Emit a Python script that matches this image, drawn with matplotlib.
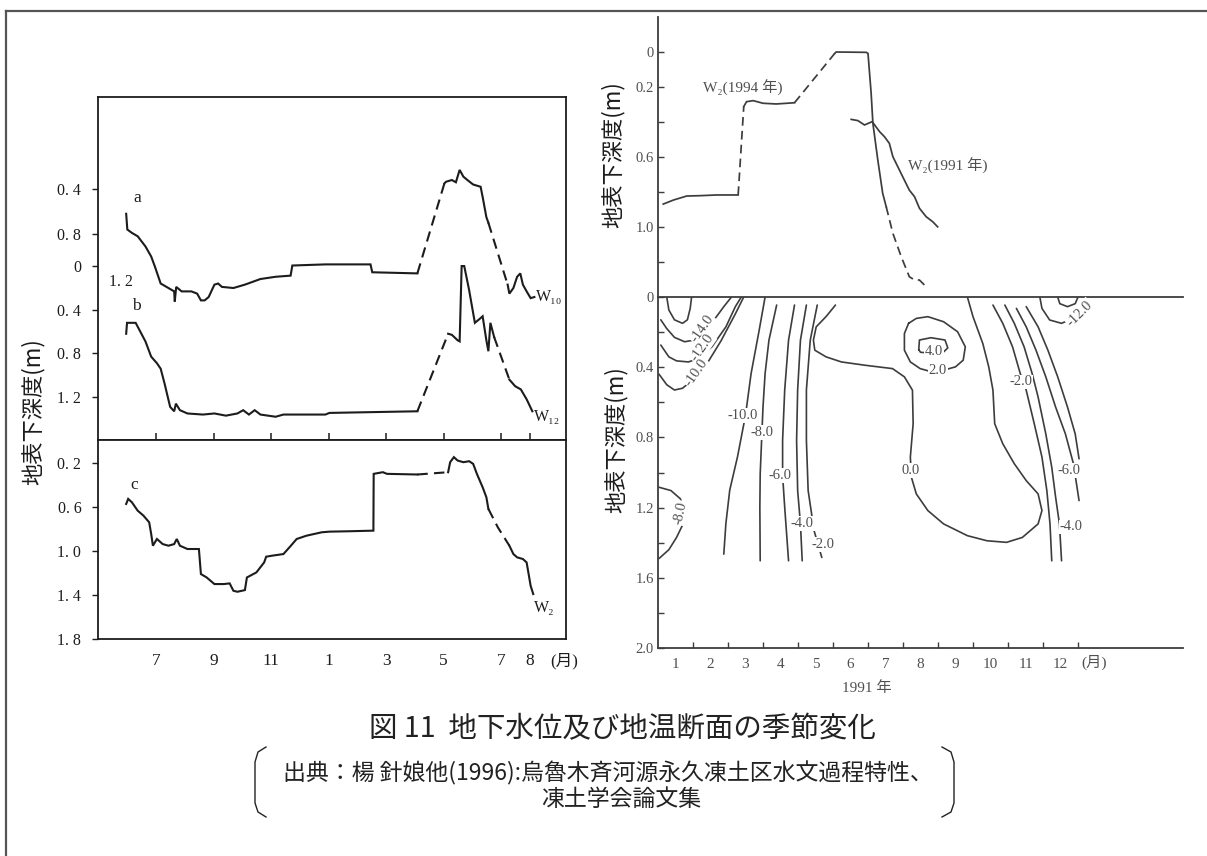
import matplotlib
matplotlib.use("Agg")
import matplotlib.pyplot as plt
from matplotlib.lines import Line2D
import numpy as np

# ---------------- data (months, depth in m) ----------------
# left panel: month index (7 = July of year 1, 13 = January of year 2 ...)
W10_t = [5.96, 6.00, 6.16, 6.36, 6.63, 6.83, 6.96, 7.16, 7.43, 7.63, 7.65, 7.70, 7.89, 8.23, 8.43, 8.56,
         8.69, 8.83, 9.03, 9.16, 9.29, 9.69, 10.09, 10.63, 11.16, 11.68, 11.74, 12.89, 14.46, 14.52, 16.09,
         17.03, 17.09, 17.29, 17.43, 17.56, 17.69, 17.83, 18.03, 18.29, 18.36, 18.49, 18.56, 19.23, 19.29,
         19.43, 19.56, 19.67, 19.76, 19.89, 20.03, 20.16]
W10_d = [0.62, 0.76, 0.79, 0.82, 0.91, 1.00, 1.09, 1.24, 1.28, 1.31, 1.40, 1.27, 1.31, 1.31, 1.33, 1.39,
         1.39, 1.36, 1.25, 1.24, 1.27, 1.28, 1.25, 1.20, 1.18, 1.17, 1.08, 1.07, 1.07, 1.14, 1.15,
         0.35, 0.335, 0.32, 0.34, 0.23, 0.29, 0.32, 0.36, 0.38, 0.47, 0.65, 0.70, 1.25, 1.33,
         1.28, 1.18, 1.15, 1.25, 1.31, 1.37, 1.36]
W10_dashed = [(16.09, 17.03), (18.56, 19.23)]

W12_t = [5.96, 5.99, 6.29, 6.43, 6.63, 6.83, 7.03, 7.16, 7.29, 7.49, 7.63, 7.69, 7.83, 8.09, 8.63, 9.03,
         9.43, 9.83, 10.03, 10.23, 10.43, 10.63, 11.16, 11.43, 12.89, 13.03, 16.09, 17.16, 17.29, 17.49,
         17.56, 17.63, 17.72, 17.89, 18.09, 18.23, 18.36, 18.49, 18.56, 18.63, 18.76, 19.29, 19.49, 19.69,
         19.89, 20.09]
W12_d = [0.62, 0.52, 0.52, 0.59, 0.69, 0.83, 0.89, 0.94, 1.07, 1.29, 1.33, 1.26, 1.32, 1.35, 1.36, 1.35,
         1.37, 1.35, 1.32, 1.36, 1.32, 1.36, 1.38, 1.36, 1.36, 1.345, 1.33, 0.62, 0.63, 0.68,
         0.69, 0.0, 0.0, 0.22, 0.52, 0.49, 0.46, 0.68, 0.78, 0.52, 0.65, 1.04, 1.10, 1.13,
         1.22, 1.33]
W12_dashed = [(16.09, 17.16), (18.76, 19.29)]

W2_t = [5.96, 6.03, 6.16, 6.36, 6.56, 6.76, 6.83, 6.89, 7.03, 7.23, 7.43, 7.63, 7.72, 7.83, 8.09, 8.49,
        8.56, 8.76, 9.03, 9.36, 9.56, 9.69, 9.83, 10.09, 10.16, 10.49, 10.76, 10.83, 11.03, 11.43, 11.69,
        11.89, 12.23, 12.76, 13.03, 13.63, 14.56, 14.57, 14.89, 15.03, 16.09, 17.16, 17.23, 17.36, 17.49,
        17.69, 17.89, 18.03, 18.16, 18.36, 18.49, 18.56, 18.89, 19.29, 19.43, 19.56, 19.76, 19.89, 19.96,
        20.03, 20.12]
W2_d = [0.571, 0.525, 0.556, 0.632, 0.677, 0.738, 0.844, 0.951, 0.890, 0.936, 0.951, 0.936, 0.890, 0.951,
        0.981, 0.981, 1.209, 1.240, 1.300, 1.300, 1.294, 1.361, 1.370, 1.355, 1.240, 1.194, 1.103, 1.051,
        1.042, 1.027, 0.951, 0.890, 0.860, 0.829, 0.823, 0.820, 0.814, 0.297, 0.282, 0.297, 0.303, 0.282,
        0.191, 0.145, 0.176, 0.191, 0.182, 0.206, 0.297, 0.419, 0.510, 0.616, 0.784, 0.951, 1.027, 1.057,
        1.072, 1.103, 1.209, 1.316, 1.391]
W2_dashed = [(16.09, 17.16), (18.56, 19.29)]

left_month_ticks = [7, 9, 11, 13, 15, 17, 19, 20]
left_month_labels = ["7", "9", "11", "1", "3", "5", "7", "8"]

# right upper panel (months of the year, 0 = 1 Jan)
W2_1994_t = [0.15, 0.44, 0.82, 1.20, 1.67, 2.29, 2.45, 2.53, 2.72, 3.00, 3.38, 3.90, 5.05, 5.09, 5.95,
             6.00, 6.09, 6.14, 6.28, 6.42, 6.52, 6.71, 6.95, 7.18, 7.33, 7.47, 7.61]
W2_1994_d = [0.869, 0.846, 0.823, 0.821, 0.817, 0.817, 0.312, 0.284, 0.278, 0.293, 0.297, 0.290, 0.008,
             0.0, 0.002, 0.008, 0.236, 0.408, 0.617, 0.808, 0.884, 1.036, 1.17, 1.284, 1.303, 1.303, 1.331]
W2_1994_dashed = [(2.29, 2.45), (3.90, 5.05), (6.52, 7.62)]

W2_1991_t = [5.52, 5.71, 5.90, 6.12, 6.33, 6.47, 6.61, 6.71, 6.85, 6.99, 7.18, 7.33, 7.47, 7.66, 7.85, 7.99]
W2_1991_d = [0.385, 0.392, 0.417, 0.398, 0.455, 0.484, 0.522, 0.598, 0.655, 0.712, 0.789, 0.827, 0.893,
             0.941, 0.970, 0.999]

# right lower panel: isotherm lines (deg C)
iso_core_t = [0.25, 0.31, 0.47, 0.70, 0.84, 0.92, 0.96]
iso_core_d = [0.0, 0.074, 0.13, 0.15, 0.13, 0.065, 0.0]
iso_m14_t = [0.08, 0.25, 0.47, 0.76, 1.04, 1.32, 1.60, 1.88, 2.10]
iso_m14_d = [0.13, 0.18, 0.23, 0.255, 0.245, 0.198, 0.131, 0.055, 0.0]
iso_m12_t = [0.08, 0.31, 0.53, 0.87, 1.15, 1.54, 1.94, 2.21, 2.38]
iso_m12_d = [0.274, 0.341, 0.364, 0.37, 0.35, 0.284, 0.17, 0.055, 0.0]
iso_m10a_t = [0.03, 0.25, 0.47, 0.70, 1.00, 1.40, 1.80, 2.20, 2.45]
iso_m10a_d = [0.44, 0.50, 0.53, 0.52, 0.47, 0.38, 0.25, 0.10, 0.0]
iso_m8a_t = [0.03, 0.37, 0.64, 0.76, 0.70, 0.53, 0.31, 0.03]
iso_m8a_d = [1.084, 1.103, 1.15, 1.22, 1.30, 1.37, 1.44, 1.49]
iso_m10_t = [3.06, 2.89, 2.66, 2.50, 2.27, 2.05, 1.94, 1.88]
iso_m10_d = [0.0, 0.19, 0.436, 0.674, 0.912, 1.10, 1.29, 1.465]
iso_m8_t = [3.39, 3.17, 3.06, 3.00, 2.97, 2.92, 2.91, 2.92]
iso_m8_d = [0.046, 0.246, 0.436, 0.627, 0.77, 1.008, 1.198, 1.503]
iso_m6_t = [3.90, 3.73, 3.62, 3.56, 3.56, 3.62, 3.73]
iso_m6_d = [0.046, 0.246, 0.53, 0.817, 1.017, 1.198, 1.503]
iso_m4_t = [4.24, 4.07, 3.99, 3.96, 3.99, 4.07, 4.12]
iso_m4_d = [0.046, 0.246, 0.53, 0.817, 1.103, 1.293, 1.503]
iso_m2_t = [4.55, 4.35, 4.24, 4.24, 4.29, 4.46, 4.68]
iso_m2_d = [0.046, 0.246, 0.53, 0.817, 1.103, 1.332, 1.484]
iso_0_t = [5.07, 4.80, 4.52, 4.44, 4.48, 4.80, 5.24, 5.92, 6.70, 7.04, 7.27, 7.29, 7.21, 7.24, 7.38, 7.71,
           8.16, 8.84, 9.40, 9.96, 10.41, 10.86, 10.97, 10.86, 10.52, 10.18, 9.85, 9.62, 9.57, 9.45, 9.28,
           9.00, 8.84]
iso_0_d = [0.046, 0.112, 0.17, 0.246, 0.303, 0.341, 0.37, 0.389, 0.408, 0.455, 0.531, 0.722, 0.912, 1.027,
           1.122, 1.217, 1.293, 1.36, 1.389, 1.398, 1.37, 1.293, 1.217, 1.122, 1.046, 0.95, 0.836, 0.722,
           0.531, 0.398, 0.265, 0.112, 0.0]
iso_p2_t = [7.16, 7.38, 7.71, 8.16, 8.56, 8.78, 8.72, 8.50, 8.16, 7.83, 7.49, 7.21, 7.04, 7.04, 7.16]
iso_p2_d = [0.15, 0.122, 0.112, 0.141, 0.198, 0.284, 0.36, 0.398, 0.417, 0.427, 0.408, 0.37, 0.303, 0.208, 0.15]
iso_p4_t = [7.45, 7.47, 7.80, 8.20, 8.28, 8.15, 7.80, 7.50, 7.45]
iso_p4_d = [0.30, 0.245, 0.232, 0.245, 0.29, 0.315, 0.32, 0.315, 0.30]
iso_r2_t = [9.57, 9.85, 10.13, 10.35, 10.52, 10.75, 10.97, 11.11, 11.20, 11.25]
iso_r2_d = [0.046, 0.15, 0.284, 0.436, 0.531, 0.722, 0.912, 1.103, 1.293, 1.503]
iso_r4_t = [9.91, 10.18, 10.46, 10.69, 10.86, 11.08, 11.25, 11.36, 11.47, 11.53]
iso_r4_d = [0.046, 0.15, 0.284, 0.436, 0.57, 0.78, 0.97, 1.14, 1.293, 1.503]
iso_r6_t = [10.24, 10.52, 10.80, 11.08, 11.36, 11.64, 11.87, 12.03]
iso_r6_d = [0.065, 0.17, 0.303, 0.455, 0.627, 0.78, 0.95, 1.16]
iso_r8_t = [10.52, 10.86, 11.14, 11.42, 11.70, 11.92, 12.03]
iso_r8_d = [0.055, 0.17, 0.303, 0.455, 0.627, 0.78, 0.922]
iso_r12_t = [10.91, 10.97, 11.19, 11.53, 11.87, 12.00]
iso_r12_d = [0.0, 0.065, 0.131, 0.15, 0.12, 0.08]
iso_r14_t = [11.42, 11.48, 11.70, 11.92, 12.00]
iso_r14_d = [0.0, 0.038, 0.055, 0.038, 0.0]

# isotherm labels: (text, month, depth, rotation)
iso_label_text = ["-14.0", "-12.0", "-10.0", "-8.0", "-10.0", "-8.0", "-6.0", "-4.0", "-2.0", "0.0",
                  "4.0", "2.0", "-2.0", "-6.0", "-4.0", "-12.0"]
iso_label_t = [1.26, 1.26, 1.09, 0.64, 2.42, 2.97, 3.48, 4.12, 4.71, 7.23, 7.88, 7.99, 10.37, 11.75, 11.81, 12.04]
iso_label_d = [0.18, 0.29, 0.43, 1.23, 0.674, 0.77, 1.017, 1.29, 1.41, 0.99, 0.31, 0.417, 0.484, 0.99, 1.31, 0.093]
iso_label_rot = [55, 55, 55, 78, 0, 0, 0, 0, 0, 0, 0, 0, 0, 0, 0, 45]

right_month_labels = ["1", "2", "3", "4", "5", "6", "7", "8", "9", "10", "11", "12"]

# ---------------- figure ----------------
W, H = 1207, 856
fig = plt.figure(figsize=(W / 100, H / 100), dpi=100)
fig.patch.set_facecolor("white")

SERIF = ["Liberation Serif", "DejaVu Serif", "Noto Sans CJK JP"]
CJK = ["Noto Sans CJK JP", "DejaVu Sans"]
plt.rcParams["font.family"] = SERIF

INK = "#1c1c1c"
GRAY = "#3d3d3d"
GTXT = "#505050"


def px_box(x0, y0, x1, y1):
    return [x0 / W, 1 - y1 / H, (x1 - x0) / W, (y1 - y0) / H]


def draw_series(ax, t, d, dashed_spans, **kw):
    t = np.asarray(t, float)
    d = np.asarray(d, float)
    styles = []
    for i in range(len(t) - 1):
        m = 0.5 * (t[i] + t[i + 1])
        styles.append(any(a <= m <= b for a, b in dashed_spans))
    i = 0
    while i < len(styles):
        j = i
        while j + 1 < len(styles) and styles[j + 1] == styles[i]:
            j += 1
        ax.plot(t[i:j + 2], d[i:j + 2], linestyle=(0, (5, 3)) if styles[i] else "-",
                solid_joinstyle="miter", **kw)
        i = j + 1


# outer frame (top and left)
fig.add_artist(Line2D([6 / W, 1.0], [1 - 10.5 / H, 1 - 10.5 / H], transform=fig.transFigure,
                      color="#555555", lw=1.6))
fig.add_artist(Line2D([6 / W, 6 / W], [0.0, 1 - 10.5 / H], transform=fig.transFigure,
                      color="#555555", lw=1.6))

# ---------------- left panel ----------------
XL = (4.98, 21.26)
ax_b = fig.add_axes(px_box(98, 97, 566, 440))
ax_b.set_xlim(*XL)
ax_b.set_ylim(1.593, -1.548)
ax_a = fig.add_axes(px_box(98, 97, 566, 440), frameon=False)
ax_a.set_xlim(*XL)
ax_a.set_ylim(2.631, -0.418)
ax_c = fig.add_axes(px_box(98, 440, 566, 639))
ax_c.set_xlim(*XL)
ax_c.set_ylim(1.8, -0.011)

for ax in (ax_b, ax_c):
    for s in ax.spines.values():
        s.set_color(INK)
        s.set_linewidth(1.3)

ax_b.set_yticks([0, 0.4, 0.8, 1.2])
ax_b.set_yticklabels(["0", "0. 4", "0. 8", "1. 2"])
ax_b.set_xticks(left_month_ticks)
ax_b.set_xticklabels([])
ax_b.tick_params(axis="x", direction="in", length=5, width=1.1, color=INK)
ax_a.set_yticks([0.4, 0.8])
ax_a.set_yticklabels(["0. 4", "0. 8"])
ax_a.set_xticks([])
ax_c.set_yticks([0.2, 0.6, 1.0, 1.4, 1.8])
ax_c.set_yticklabels(["0. 2", "0. 6", "1. 0", "1. 4", "1. 8"])
ax_c.set_xticks(left_month_ticks)
ax_c.set_xticklabels(left_month_labels)
ax_c.tick_params(axis="x", length=0, pad=10, labelsize=12.5, labelcolor=INK)
for ax in (ax_a, ax_b, ax_c):
    ax.tick_params(axis="y", direction="out", length=4, width=1, pad=8, labelsize=11.5,
                   color=INK, labelcolor=INK)

kw_l = dict(color=INK, lw=1.5)
draw_series(ax_a, W10_t, W10_d, W10_dashed, **kw_l)
draw_series(ax_b, W12_t, W12_d, W12_dashed, **kw_l)
draw_series(ax_c, W2_t, W2_d, W2_dashed, **kw_l)

ax_a.text(6.33, 0.48, "a", fontsize=12.5, color=INK, ha="center", va="center")
ax_b.text(6.33, 0.366, "b", fontsize=12.5, color=INK, ha="center", va="center")
ax_c.text(6.23, 0.40, "c", fontsize=12.5, color=INK, ha="center", va="center")
ax_a.text(5.78, 1.227, "1. 2", fontsize=11.5, color=INK, ha="center", va="center")
ax_a.text(20.22, 1.36, "W₁₀", fontsize=11.5, color=INK, ha="left", va="center")
ax_b.text(20.15, 1.38, "W₁₂", fontsize=11.5, color=INK, ha="left", va="center")
ax_c.text(20.15, 1.52, "W₂", fontsize=11.5, color=INK, ha="left", va="center")
ax_c.text(21.19, 2.00, "(月)", fontsize=12, color=INK, ha="center", va="center",
          family=["Liberation Serif", "Noto Sans CJK JP"], clip_on=False)

fig.text(33 / W, 1 - 412 / H, "地表下深度(m)", rotation=90, fontsize=16, family=CJK,
         ha="center", va="center", color=INK)

# ---------------- right panels ----------------
ax_u = fig.add_axes(px_box(658, 17, 1183, 297))
ax_u.set_xlim(0, 15)
ax_u.set_ylim(1.4, -0.2)
ax_l = fig.add_axes(px_box(658, 297, 1183, 648))
ax_l.set_xlim(0, 15)
ax_l.set_ylim(2.0, 0)

for s in ("top", "right", "bottom"):
    ax_u.spines[s].set_visible(False)
ax_l.spines["right"].set_visible(False)
for ax in (ax_u, ax_l):
    for s in ax.spines.values():
        s.set_color(GRAY)
        s.set_linewidth(1.3)

ax_u.set_xticks([])
ax_u.set_yticks([0, 0.2, 0.4, 0.6, 0.8, 1.0, 1.2])
ax_u.set_yticklabels(["0", "0.2", "", "0.6", "", "1.0", ""])
ax_l.set_yticks([0, 0.2, 0.4, 0.6, 0.8, 1.0, 1.2, 1.4, 1.6, 1.8, 2.0])
ax_l.set_yticklabels(["0", "", "0.4", "", "0.8", "", "1.2", "", "1.6", "", "2.0"])
for ax in (ax_u, ax_l):
    ax.tick_params(axis="y", direction="in", length=4, width=1, pad=3, labelsize=10.5,
                   color=GRAY, labelcolor=GTXT)
ax_l.set_xticks(range(1, 13))
ax_l.set_xticklabels([])
ax_l.set_xticks([m - 0.5 for m in range(1, 13)], minor=True)
ax_l.set_xticklabels(right_month_labels, minor=True)
ax_l.tick_params(axis="x", which="major", direction="in", length=4, width=1, color=GRAY)
ax_l.tick_params(axis="x", which="minor", length=0, pad=7, labelsize=11, labelcolor=GTXT)
ax_l.text(12.46, 2.083, "(月)", fontsize=11, color=GTXT, ha="center", va="center",
          family=["Liberation Serif", "Noto Sans CJK JP"], clip_on=False)
ax_l.text(5.96, 2.23, "1991 年", fontsize=11, color=GTXT, ha="center", va="center",
          family=SERIF, clip_on=False)

kw_r = dict(color=GRAY, lw=1.25)
draw_series(ax_u, W2_1994_t, W2_1994_d, W2_1994_dashed, **kw_r)
draw_series(ax_u, W2_1991_t, W2_1991_d, [], **kw_r)
ax_u.text(1.28, 0.206, "W₂(1994 年)", fontsize=11, color=GTXT, ha="left", va="center")
ax_u.text(7.13, 0.651, "W₂(1991 年)", fontsize=11, color=GTXT, ha="left", va="center")

iso_lines = [(iso_core_t, iso_core_d), (iso_m14_t, iso_m14_d), (iso_m12_t, iso_m12_d),
             (iso_m10a_t, iso_m10a_d), (iso_m8a_t, iso_m8a_d), (iso_m10_t, iso_m10_d),
             (iso_m8_t, iso_m8_d), (iso_m6_t, iso_m6_d), (iso_m4_t, iso_m4_d), (iso_m2_t, iso_m2_d),
             (iso_0_t, iso_0_d), (iso_p2_t, iso_p2_d), (iso_p4_t, iso_p4_d), (iso_r2_t, iso_r2_d),
             (iso_r4_t, iso_r4_d), (iso_r6_t, iso_r6_d), (iso_r8_t, iso_r8_d), (iso_r12_t, iso_r12_d),
             (iso_r14_t, iso_r14_d)]
for tt, dd in iso_lines:
    ax_l.plot(tt, dd, color=GRAY, lw=1.2, solid_capstyle="round")
for s, tt, dd, rr in zip(iso_label_text, iso_label_t, iso_label_d, iso_label_rot):
    ax_l.text(tt, dd, s, fontsize=10.5, color=GTXT, ha="center", va="center", rotation=rr,
              bbox=dict(facecolor="white", edgecolor="none", pad=0.6), zorder=5)

fig.text(613 / W, 1 - 155 / H, "地表下深度(m)", rotation=90, fontsize=16, family=CJK,
         ha="center", va="center", color=INK)
fig.text(616 / W, 1 - 440 / H, "地表下深度(m)", rotation=90, fontsize=16, family=CJK,
         ha="center", va="center", color=INK)

# ---------------- caption ----------------
fig.text(622 / W, 1 - 729 / H, "図 11  地下水位及び地温断面の季節変化", fontsize=20.5, family=CJK,
         ha="center", va="center", color="#222222")
fig.text(608 / W, 1 - 773 / H, "出典：楊 針娘他(1996):烏魯木斉河源永久凍土区水文過程特性、", fontsize=16.5,
         family=CJK, ha="center", va="center", color="#222222")
fig.text(621 / W, 1 - 799 / H, "凍土学会論文集", fontsize=16.5, family=CJK,
         ha="center", va="center", color="#222222")

lb_x = [266, 258, 255, 255, 258, 266]
lb_y = [747, 752, 762, 803, 812, 817]
rb_x = [942, 951, 954, 954, 951, 942]
fig.add_artist(Line2D([x / W for x in lb_x], [1 - y / H for y in lb_y], transform=fig.transFigure,
                      color="#222222", lw=1.0))
fig.add_artist(Line2D([x / W for x in rb_x], [1 - y / H for y in lb_y], transform=fig.transFigure,
                      color="#222222", lw=1.0))

fig.savefig("out.png", dpi=100, facecolor="white")
